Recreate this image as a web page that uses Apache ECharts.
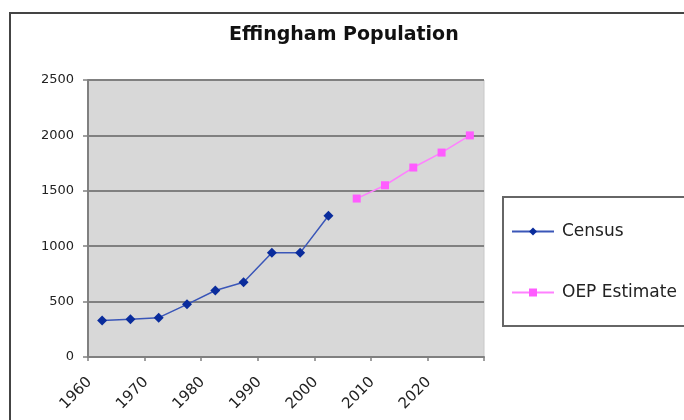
<!DOCTYPE html>
<html>
<head>
<meta charset="utf-8">
<script src="https://cdn.jsdelivr.net/npm/echarts@6/dist/echarts.min.js"></script>
<style>
html,body{margin:0;padding:0;background:#fff;}
#main{width:684px;height:420px;}
</style>
</head>
<body>
<div id="main"></div>
<script>
var years=['1960','1965','1970','1975','1980','1985','1990','1995','2000','2005','2010','2015','2020','2025'];
var census=[330,340,355,475,600,675,940,940,1275,null,null,null,null,null];
var oep=[null,null,null,null,null,null,null,null,null,1430,1550,1710,1845,2000];
var yTicks=[0,500,1000,1500,2000,2500];

var font="'DejaVu Sans', Verdana, sans-serif";
var myChart=echarts.init(document.getElementById('main'));
var option={
	animation:false,
	backgroundColor:'#fff',
	textStyle:{fontFamily:font},
	title:{
		text:'Effingham Population',
		left:229,
		top:26,
		padding:0,
		textStyle:{fontSize:19,fontWeight:'bold',color:'#111',fontFamily:font}
	},
	graphic:[
		{type:'rect',shape:{x:10,y:13,width:700,height:440},style:{fill:'none',stroke:'#444',lineWidth:2},silent:true},
		{type:'rect',shape:{x:503,y:197,width:220,height:129},style:{fill:'#fff',stroke:'#666',lineWidth:2},silent:true,z:-1}
	],
	legend:{
		orient:'vertical',
		left:506,
		top:218,
		itemGap:44,
		itemWidth:42,
		itemHeight:10,
		textStyle:{fontSize:17,color:'#222',fontFamily:font,padding:[0,0,0,3]},
		data:['Census','OEP Estimate']
	},
	grid:{
		left:88,right:200,top:80,bottom:63,
		show:true,
		backgroundColor:'#d8d8d8',
		borderColor:'#c8c8c8',
		borderWidth:1
	},
	xAxis:{
		type:'category',
		data:years,
		boundaryGap:true,
		axisLine:{lineStyle:{color:'#808080',width:2}},
		axisTick:{show:true,length:4,lineStyle:{color:'#808080',width:1.5}},
		axisLabel:{interval:1,rotate:45,fontSize:15,color:'#222',margin:10,padding:[0,18,0,0]}
	},
	yAxis:{
		type:'value',
		min:yTicks[0],max:yTicks[yTicks.length-1],interval:500,
		axisLine:{show:true,lineStyle:{color:'#808080',width:2}},
		axisTick:{show:true,length:5,lineStyle:{color:'#808080',width:1.5}},
		axisLabel:{fontSize:13,color:'#222',margin:14,formatter:function(v){return String(v);}},
		splitLine:{lineStyle:{color:'#808080',width:2}}
	},
	series:[
		{
			name:'Census',
			type:'line',
			data:census,
			symbol:'diamond',
			symbolSize:10,
			lineStyle:{color:'#3a56b8',width:1.5},
			itemStyle:{color:'#0a2c9c'}
		},
		{
			name:'OEP Estimate',
			type:'line',
			data:oep,
			symbol:'rect',
			symbolSize:8,
			lineStyle:{color:'#ff80ff',width:1.5},
			itemStyle:{color:'#ff5cff'}
		}
	]
};
myChart.setOption(option);
</script>
</body>
</html>
